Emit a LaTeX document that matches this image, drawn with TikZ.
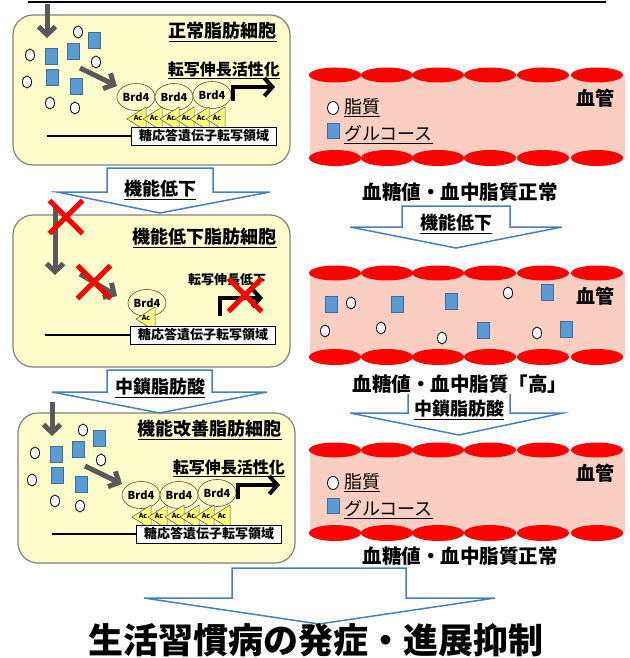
\documentclass[tikz,border=0pt]{standalone}
\usepackage{fontspec}
\setmainfont{Noto Sans CJK JP}
\usetikzlibrary{arrows.meta, shapes.geometric, shapes.misc}
\definecolor{cellyellow}{RGB}{255,253,204}
\definecolor{cellborder}{RGB}{128,128,128}
\definecolor{arrowgray}{RGB}{89,89,89}
\definecolor{glucoseblue}{RGB}{91,155,213}
\definecolor{vesselpink}{RGB}{250,207,194}
\definecolor{acyellow}{RGB}{255,255,120}
\definecolor{flowblue}{RGB}{74,126,187}

% block arrow: shaft left/right, top, shoulder, head left/right, tip
\newcommand{\hollowarrow}[7]{%
  \draw[flow] (#1,#3) -- (#2,#3) -- (#2,#4) -- (#6,#4) -- ({(#1+#2)/2},#7) -- (#5,#4) -- (#1,#4) -- cycle;}

\begin{document}
\begin{tikzpicture}[x=1pt, y=-1pt,
    cell/.style={draw=cellborder, line width=1.2pt, fill=cellyellow, rounded corners=20pt},
    headline/.style={anchor=east, inner sep=0pt, font=\bfseries\fontsize{18}{18}\selectfont},
    lipid/.style={ellipse, draw=black, line width=0.8pt, fill=white, minimum width=9pt, minimum height=12pt, inner sep=0pt},
    glucose/.style={rectangle, draw=glucoseblue!70!black, line width=0.5pt, fill=glucoseblue, minimum width=12pt, minimum height=16pt, inner sep=0pt},
    brd/.style={ellipse, draw=black!55!olive, fill=cellyellow, line width=0.6pt, minimum width=38pt, minimum height=27pt, inner sep=0pt, font=\bfseries\fontsize{11}{11}\selectfont},
    acetyl/.style={draw=black!70, fill=acyellow, line width=0.5pt},
    aclabel/.style={inner sep=0pt, font=\bfseries\fontsize{7}{7}\selectfont},
    genebox/.style={draw=black, fill=white, line width=0.8pt, minimum width=145pt, minimum height=18pt, inner sep=1pt, font=\bfseries\fontsize{13}{13}\selectfont},
    inflow/.style={draw=arrowgray, line width=5pt, -{Straight Barb[length=8pt, width=17pt]}},
    geneon/.style={draw=black, line width=4pt, -{Straight Barb[length=8pt, width=18pt]}},
    nogo/.style={cross out, draw=red, line width=5pt, minimum size=28pt, inner sep=0pt},
    flow/.style={draw=flowblue, line width=1.5pt, fill=white, line join=miter},
    flowlabel/.style={inner sep=0pt, font=\bfseries\fontsize{18}{18}\selectfont},
    wall/.style={fill=red},
    vlabel/.style={anchor=east, inner sep=0pt, font=\bfseries\fontsize{19}{19}\selectfont},
    legend/.style={anchor=west, inner sep=0pt, font=\fontsize{18}{18}\selectfont},
    status/.style={fill=white, inner sep=1pt, font=\bfseries\fontsize{19.5}{19.5}\selectfont}
]
\useasboundingbox (0,0) rectangle (629,658);

\draw[line width=2pt] (28,2) -- (606,2);

% healthy and improved fat cells
\foreach \dx/\dy/\cellname/\celltitle in {0/0/normal/正常脂肪細胞, 5/398/improved/機能改善脂肪細胞}{
  \begin{scope}[shift={(\dx,\dy)}]
    \draw[cell] (13,15) rectangle (290,165);
    \node[headline] (\cellname-title) at (277,32) {\underline{\celltitle}};
    \draw[inflow] (47,4) -- (47,38);
    \foreach \x/\y [count=\i] in {78/32,30/55,96/62,27/82,50/103,75/108}
      \node[lipid] (\cellname-lipid\i) at (\x,\y) {};
    \foreach \x/\y [count=\i] in {51/56,73/51,94/40,52/77,76/86}
      \node[glucose] (\cellname-glc\i) at (\x,\y) {};
    \draw[inflow] (80,68) -- (117,86);
    \node[headline, font=\bfseries\fontsize{16}{16}\selectfont] (\cellname-elong) at (280,70) {\underline{転写伸長活性化}};
    \foreach \x/\y [count=\i] in {136/97,174/97,212/95}
      \node[brd] (\cellname-brd\i) at (\x,\y) {Brd4};
    \foreach \c [count=\i] in {137,153,170,185,200,216}{
      \draw[acetyl] (\c-10,119) -- (\c+9,107) -- (\c+9,131) -- cycle;
      \node[aclabel] (\cellname-ac\i) at (\c+1,118) {Ac};
    }
    \node[genebox] (\cellname-gene) at (204,136) {糖応答遺伝子転写領域};
    \draw[line width=1.5pt] (47,136) -- (\cellname-gene.west);
    \draw[geneon] (233,101) -- (233,87) -- (275,87);
  \end{scope}
}

% impaired fat cell
\draw[cell] (13,215) rectangle (290,367);
\node[headline] (reduced-title) at (277,238) {\underline{機能低下脂肪細胞}};
\draw[inflow] (55,208) -- (55,275);
\draw[inflow] (80,274) -- (117,296);
\node[brd] (reduced-brd) at (147,303) {Brd4};
\draw[acetyl] (136,319) -- (155,307) -- (155,331) -- cycle;
\node[aclabel] (reduced-ac) at (146,318) {Ac};
\node[genebox] (reduced-gene) at (203,335) {糖応答遺伝子転写領域};
\draw[line width=1.5pt] (45,335) -- (reduced-gene.west);
\node[inner sep=0pt, font=\bfseries\fontsize{13}{13}\selectfont] (reduced-elong) at (227,280) {転写伸長低下};
\draw[geneon] (220,316) -- (220,298) -- (263,298);
\node[nogo] (x1) at (66,217) {};
\node[nogo] (x2) at (94,282) {};
\node[nogo] (x3) at (245,295) {};

% blood vessels
\foreach \wa/\wb [count=\v] in {75/158, 273/357, 450/533}{
  \fill[vesselpink] (310,\wa) rectangle (625,\wb);
  \foreach \x in {335,387,438,490,543,597}{
    \fill[wall] (\x,\wa) ellipse [x radius=26pt, y radius=7.5pt];
    \fill[wall] (\x,\wb) ellipse [x radius=26pt, y radius=8pt];
  }
  \node[vlabel] (vessel\v-label) at (615,\wa+23) {血管};
}
\foreach \wa/\vname in {75/normal, 450/restored}{
  \node[lipid, minimum width=11pt, minimum height=13pt] (\vname-key1) at (333,\wa+33) {};
  \node[legend] (\vname-lipid) at (344,\wa+33) {\underline{脂質}};
  \node[glucose, minimum height=15pt] (\vname-key2) at (333,\wa+56) {};
  \node[legend] (\vname-glucose) at (344,\wa+60) {\underline{グルコース}};
}
\foreach \x/\y [count=\i] in {351/303,508/293,325/331,381/328,442/338,537/333}
  \node[lipid] (high-lipid\i) at (\x,\y) {};
\foreach \x/\y [count=\i] in {331/304,397/304,451/301,547/292,483/330,566/329}
  \node[glucose] (high-glc\i) at (\x,\y) {};

% transitions
\hollowarrow{107}{213}{168}{192}{57}{270}{213}
\node[flowlabel] (left-down) at (160,190) {\underline{機能低下}};
\hollowarrow{107}{212}{370}{392}{52}{267}{413}
\node[flowlabel] (left-mcfa) at (160,388) {\underline{中鎖脂肪酸}};
\hollowarrow{402}{510}{206}{227}{350}{562}{248}
\node[flowlabel] (right-down) at (456,224) {\underline{機能低下}};
\hollowarrow{408}{510}{393}{413}{350}{563}{435}
\node[flowlabel] (right-mcfa) at (459,410) {\underline{中鎖脂肪酸}};
\hollowarrow{232}{406}{568}{598}{144}{495}{624}

\node[status] (normal-status) at (460,192) {血糖値・血中脂質正常};
\node[status] (high-status) at (460,384) {血糖値・血中脂質「高」};
\node[status] (restored-status) at (460,556) {血糖値・血中脂質正常};

\node[inner sep=0pt, font=\bfseries\fontsize{35}{35}\selectfont] (outcome) at (316,640) {生活習慣病の発症・進展抑制};
\end{tikzpicture}
\end{document}
